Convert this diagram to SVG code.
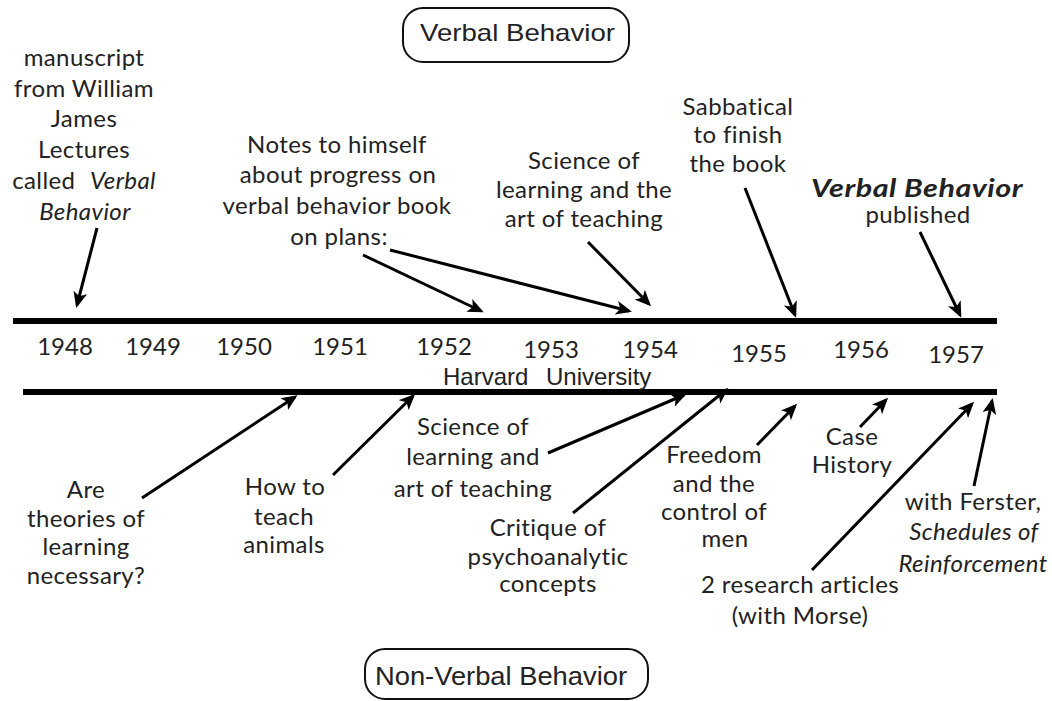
<svg xmlns="http://www.w3.org/2000/svg" width="1052" height="701" viewBox="0 0 1052 701">
<style>
.t{font-family:Lato,"Open Sans","Liberation Sans",sans-serif;font-size:24px;letter-spacing:0.4px;fill:#222;text-anchor:middle}
.y{font-family:Lato,"Open Sans","Liberation Sans",sans-serif;font-size:24px;fill:#222;text-anchor:middle}
.i{font-style:italic}
.a{font-family:"Liberation Sans",Arial,sans-serif;fill:#222}
.box{fill:#fff;stroke:#111;stroke-width:2}
.tl{stroke:#000;stroke-width:6}
.c{stroke:#000;stroke-width:3;fill:none;marker-end:url(#ah)}
</style>
<defs>
<marker id="ah" markerUnits="userSpaceOnUse" markerWidth="16" markerHeight="14" refX="13" refY="7" orient="auto">
<path d="M0,0 L16,7 L0,14 L4,7 z" fill="#000"/>
</marker>
</defs>
<rect width="1052" height="701" fill="#fff"/>

<g id="verbal-box">
<rect class="box" x="403" y="8" width="226" height="54" rx="20"/>
<text class="a" x="420" y="41" font-size="24" textLength="195" lengthAdjust="spacingAndGlyphs">Verbal Behavior</text>
</g>
<g id="nonverbal-box">
<rect class="box" x="365" y="649" width="283" height="50" rx="20"/>
<text class="a" x="375" y="685" font-size="25" textLength="252" lengthAdjust="spacingAndGlyphs">Non-Verbal Behavior</text>
</g>

<g id="timeline">
<line class="tl" x1="13" y1="321" x2="997" y2="321"/>
<line class="tl" x1="23" y1="392" x2="997" y2="392"/>
<text class="y" x="65" y="355">1948</text>
<text class="y" x="153" y="355">1949</text>
<text class="y" x="244" y="355">1950</text>
<text class="y" x="340" y="355">1951</text>
<text class="y" x="444" y="355">1952</text>
<text class="y" x="551" y="358">1953</text>
<text class="y" x="650" y="358">1954</text>
<text class="y" x="759" y="362">1955</text>
<text class="y" x="861" y="358">1956</text>
<text class="y" x="956" y="363">1957</text>
<text class="a" x="443" y="385" font-size="24">Harvard</text>
<text class="a" x="546" y="385" font-size="24">University</text>
</g>

<g id="n-manuscript">
<text class="t" x="84" y="66">manuscript</text>
<text class="t" x="84" y="97">from William</text>
<text class="t" x="84" y="127">James</text>
<text class="t" x="84" y="158">Lectures</text>
<text class="t" x="84" y="189">called <tspan class="i" dx="8">Verbal</tspan></text>
<text class="t i" x="85" y="220">Behavior</text>
</g>
<g id="n-notes">
<text class="t" x="337" y="153">Notes to himself</text>
<text class="t" x="338" y="183">about progress on</text>
<text class="t" x="337" y="214">verbal behavior book</text>
<text class="t" x="339" y="245">on plans:</text>
</g>
<g id="n-science-top">
<text class="t" x="584" y="169">Science of</text>
<text class="t" x="584" y="198">learning and the</text>
<text class="t" x="584" y="227">art of teaching</text>
</g>
<g id="n-sabbatical">
<text class="t" x="738" y="115">Sabbatical</text>
<text class="t" x="738" y="143">to finish</text>
<text class="t" x="738" y="172">the book</text>
</g>
<g id="n-published">
<text class="t i" x="811" y="197" font-weight="bold" style="text-anchor:start" textLength="212" lengthAdjust="spacingAndGlyphs">Verbal Behavior</text>
<text class="t" x="918" y="223">published</text>
</g>

<g id="n-theories">
<text class="t" x="86" y="498">Are</text>
<text class="t" x="86" y="527">theories of</text>
<text class="t" x="86" y="555">learning</text>
<text class="t" x="86" y="584">necessary?</text>
</g>
<g id="n-animals">
<text class="t" x="285" y="495">How to</text>
<text class="t" x="284" y="525">teach</text>
<text class="t" x="284" y="553">animals</text>
</g>
<g id="n-science-bottom">
<text class="t" x="473" y="435">Science of</text>
<text class="t" x="473" y="465">learning and</text>
<text class="t" x="473" y="497">art of teaching</text>
</g>
<g id="n-critique">
<text class="t" x="548" y="536">Critique of</text>
<text class="t" x="548" y="565">psychoanalytic</text>
<text class="t" x="548" y="592">concepts</text>
</g>
<g id="n-freedom">
<text class="t" x="714" y="463">Freedom</text>
<text class="t" x="714" y="492">and the</text>
<text class="t" x="714" y="520">control of</text>
<text class="t" x="725" y="547">men</text>
</g>
<g id="n-case">
<text class="t" x="852" y="445">Case</text>
<text class="t" x="852" y="473">History</text>
</g>
<g id="n-ferster">
<text class="t" x="973" y="510">with Ferster,</text>
<text class="t i" x="974" y="540">Schedules of</text>
<text class="t i" x="973" y="572">Reinforcement</text>
</g>
<g id="n-morse">
<text class="t" x="800" y="593">2 research articles</text>
<text class="t" x="800" y="624">(with Morse)</text>
</g>

<g id="connectors">
<line class="c" x1="97" y1="228" x2="77" y2="305"/>
<line class="c" x1="363" y1="255" x2="481" y2="311"/>
<line class="c" x1="390" y1="250" x2="629" y2="311"/>
<line class="c" x1="588" y1="242" x2="649" y2="304"/>
<line class="c" x1="745" y1="188" x2="795" y2="315"/>
<line class="c" x1="920" y1="232" x2="960" y2="315"/>
<line class="c" x1="142" y1="498" x2="295" y2="397"/>
<line class="c" x1="333" y1="475" x2="413" y2="396"/>
<line class="c" x1="548" y1="453" x2="684" y2="395"/>
<line class="c" x1="573" y1="513" x2="726" y2="390"/>
<line class="c" x1="757" y1="445" x2="795" y2="406"/>
<line class="c" x1="860" y1="427" x2="886" y2="400"/>
<line class="c" x1="812" y1="570" x2="972" y2="404"/>
<line class="c" x1="974" y1="486" x2="992" y2="401"/>
</g>
</svg>
